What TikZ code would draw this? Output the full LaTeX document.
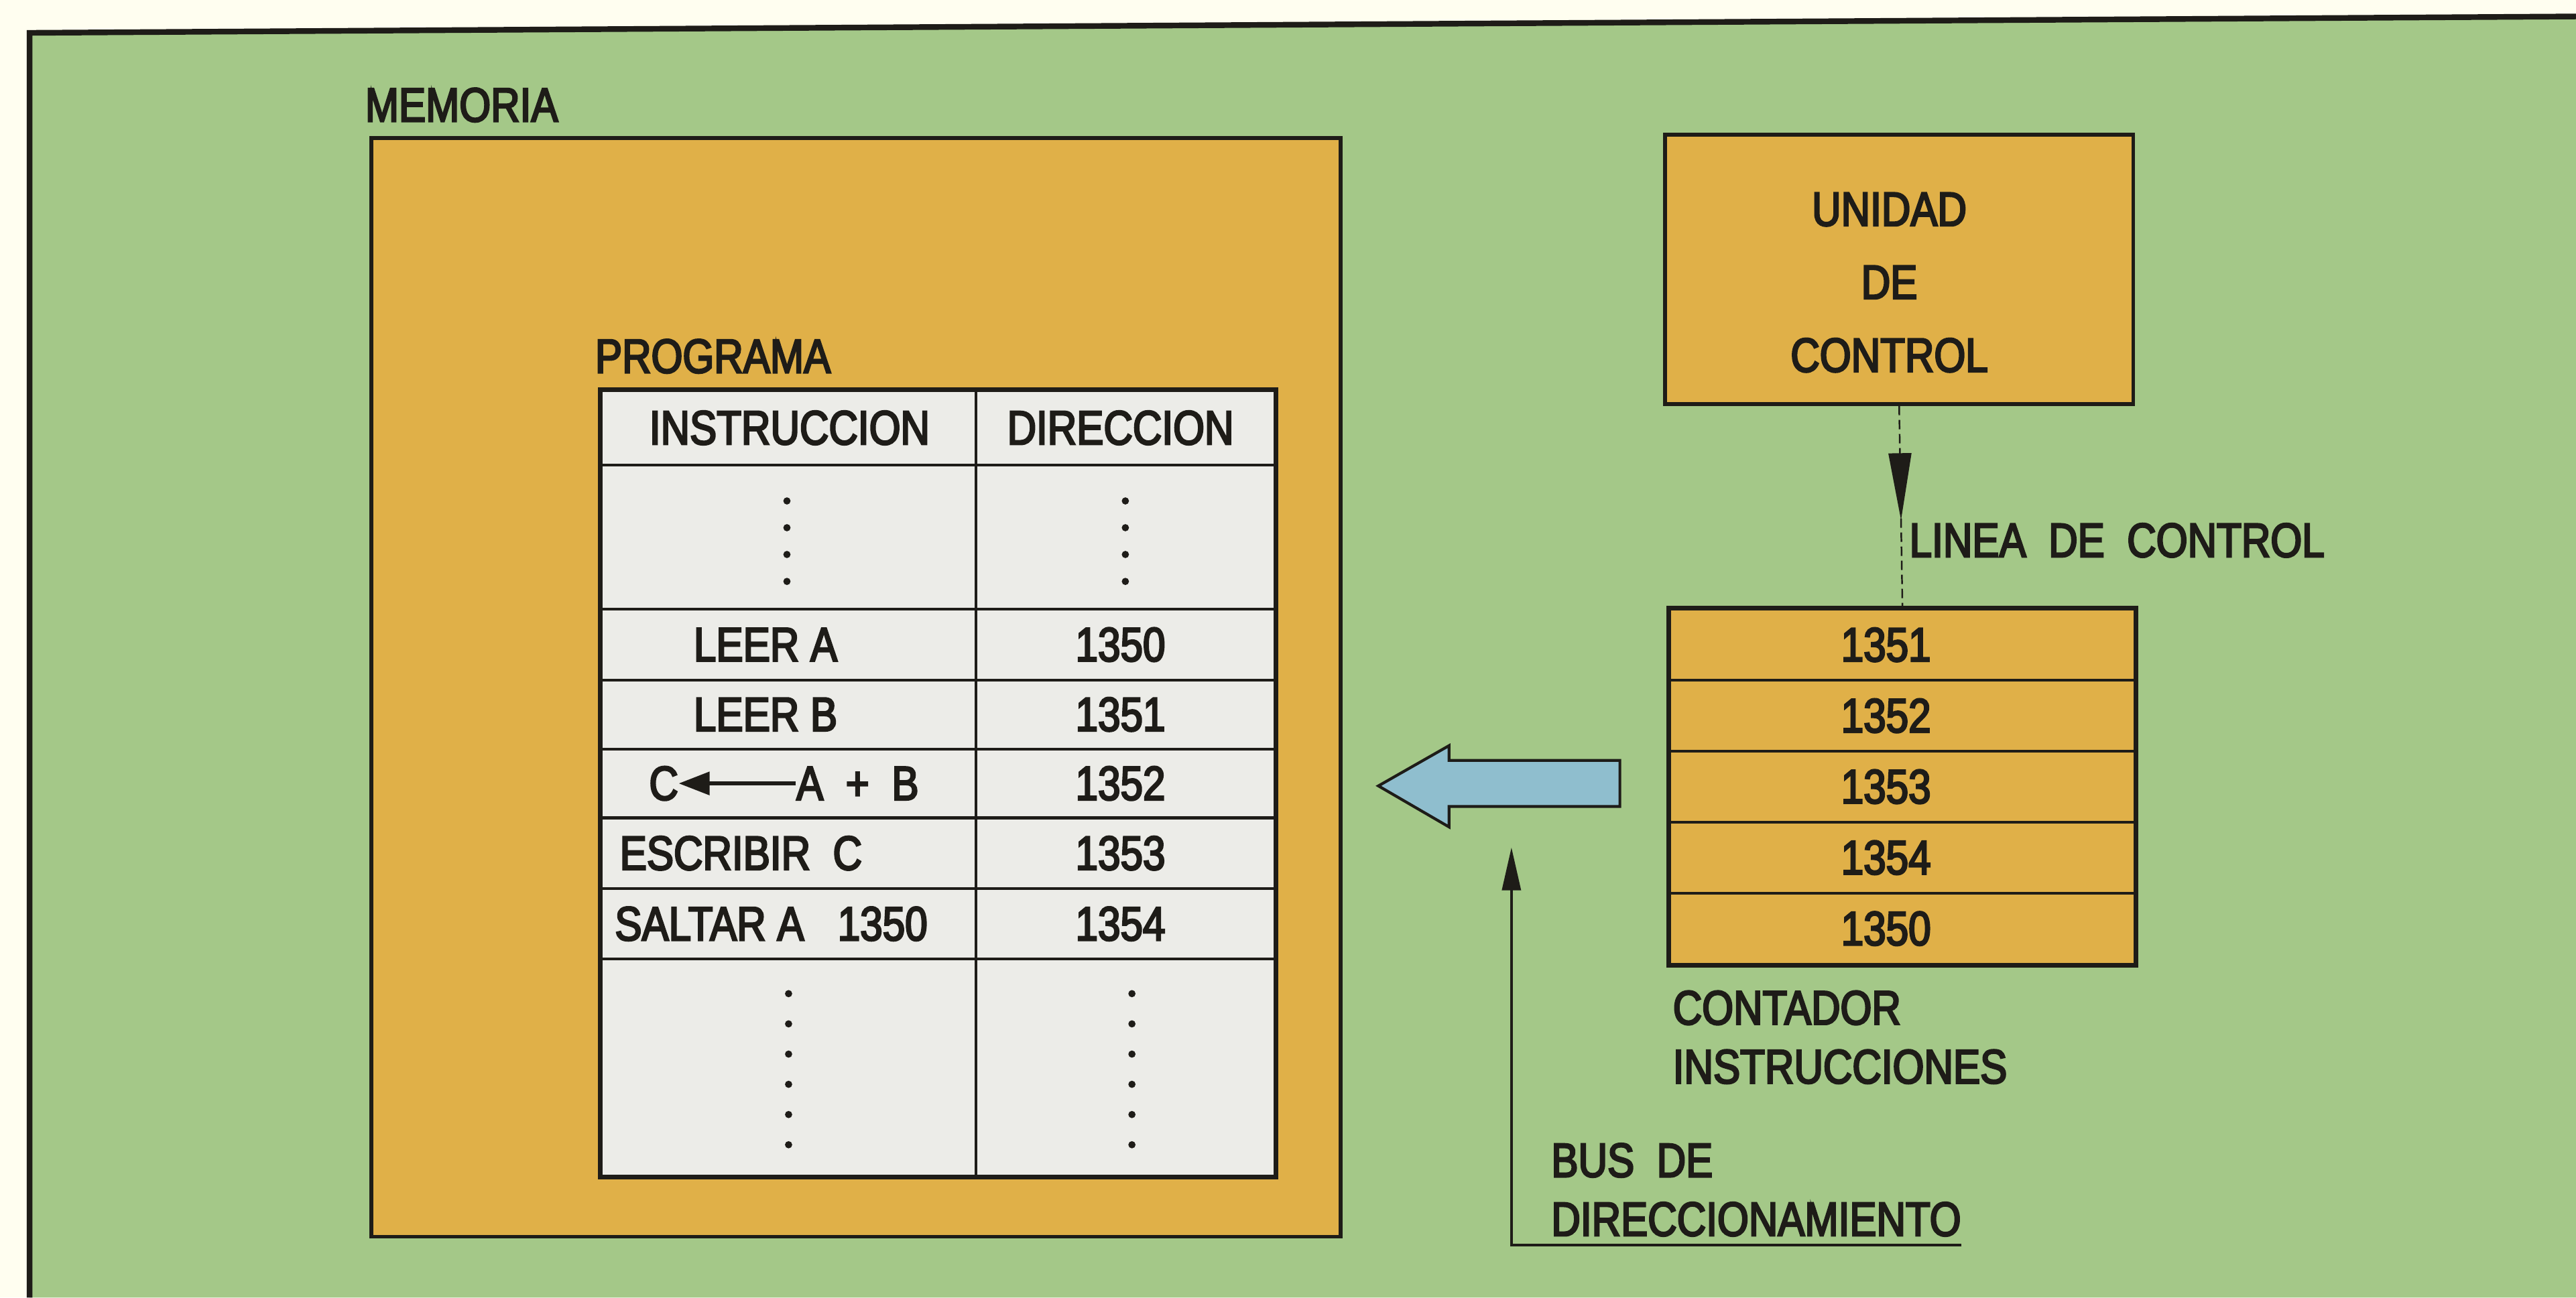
\documentclass[tikz,border=0pt]{standalone}
\usepackage{fontspec}
\setmainfont[FakeStretch=0.84,FakeBold=3.5]{Liberation Sans}
\usetikzlibrary{arrows.meta}
\usetikzlibrary{decorations.markings}
\usetikzlibrary{positioning}
\newcommand{\px}{0.2451mm}
\definecolor{panel}{RGB}{164,200,136}
\definecolor{ocre}{RGB}{224,176,72}
\definecolor{hoja}{RGB}{236,236,232}
\definecolor{celeste}{RGB}{143,190,206}
\definecolor{tinta}{RGB}{30,28,24}
\tikzset{x=\px, y=-\px,
every node/.style={ % same lettering everywhere
text=tinta, inner sep=0pt,
font=\fontsize{20.4}{25}\selectfont},
box/.style={draw=tinta, line width=1.5pt, fill=ocre},
cell/.style={draw=tinta, line width=1.2pt, fill=hoja},
reg/.style={draw=tinta, line width=1.2pt, fill=ocre},
ctrl/.style={ % dashed control line with its head halfway
draw=tinta, line width=0.7pt,
dash pattern=on 1.4mm off 0.7mm,
postaction={decorate},
decoration={markings, mark=at position 0.566 with {\arrow{Triangle[length=10mm,width=3.4mm]}}}},
bus/.style={draw=tinta, line width=1pt, -{Triangle[length=6.4mm,width=2.8mm]}}}

\begin{document}
\begin{tikzpicture}
\useasboundingbox (0,0) rectangle (1568,790);
\fill[white!94!yellow] (0,0) rectangle (1568,790);
\fill[panel] (18,20) -- (1568,10) -- (1568,790) -- (18,790) -- cycle;
\draw[tinta, line width=2.4pt] (18,790) -- (18,20) -- (1568,10);

% memoria
\node[box, minimum width=590*\px, minimum height=669*\px] (M) at (521,418.5) {};
\node[anchor=base west] (Mt) at (222,74) {MEMORIA};
\node[anchor=base west] (Pt) at (362,227) {PROGRAMA};
\foreach \t/\b/\ix/\ia/\da [count=\i] in {238/283/395/INSTRUCCION/DIRECCION, 283/371/0/{}/{},
  371/414/422/LEER A/1350, 414/456/422/LEER B/1351, 456/498/0/{}/1352,
  498/541/377/ESCRIBIR\ \ C/1353, 541/584/374/SALTAR A\ \ \ 1350/1354, 584/716/0/{}/{}}
{
\node[cell, minimum width=228*\px, minimum height={(\b-\t)*\px}] (I\i) at (480,{(\t+\b)/2}) {};
\node[cell, minimum width=182*\px, minimum height={(\b-\t)*\px}] (D\i) at (685,{(\t+\b)/2}) {};
\node[anchor=west] (Ia\i) at (\ix,{(\t+\b)/2}) {\ia};
\node (Da\i) at (682,{(\t+\b)/2}) {\da};
}
\draw[tinta, line width=1.6pt] (I1.north west) rectangle (D8.south east);
\foreach \y in {305,321.3,337.6,354} {
\fill[tinta] (479,\y) circle (2.2);
\fill[tinta] (685,\y) circle (2.2);
}
\foreach \y in {605,623.4,641.8,660.2,678.6,697} {
\fill[tinta] (480,\y) circle (2.2);
\fill[tinta] (689,\y) circle (2.2);
}
\node (C) at (404,477) {C};
\node (AB) at (522,477) {A\ \ +\ \ B};
\draw[tinta, line width=1.6pt, -{Triangle[length=4.6mm,width=3.4mm]}] (AB) -- (C);

% unidad de control y contador
\node[box, minimum width=285*\px, minimum height=164*\px] (U) at (1156,164) {};
\node[align=center] (Ut) at (1150,172) {UNIDAD\\[6pt]DE\\[6pt]CONTROL};
\foreach \v [count=\i] in {1351,1352,1353,1354,1350} {
\node[reg, minimum width=283*\px, minimum height=43.2*\px] (R\i) at (1158,{371+43.2*\i-21.6}) {};
\node (Ra\i) at (1148,{371+43.2*\i-21.6}) {\v};
}
\draw[tinta, line width=1.6pt] (R1.north west) rectangle (R5.south east);
\draw[ctrl] (U.south) -- (R1.north);
\node[anchor=west] (L) at (1162,329) {LINEA\ \ DE\ \ CONTROL};
\node[anchor=north west, align=left] (K) at (1018,603) {CONTADOR\\INSTRUCCIONES};

% flecha hacia memoria
\filldraw[fill=celeste, draw=tinta, line width=1.2pt]
(839,478.5) -- (882,454) -- (882,463) -- (986,463) -- (986,491) -- (882,491) -- (882,503.5) -- cycle;

% bus
\node[anchor=south west, align=left] (B) at (944,753) {BUS\ \ DE\\DIRECCIONAMIENTO};
\coordinate (Bf) at (920,758);
\coordinate (Bt) at (920,516);
\draw[bus] (B.south east |- Bf) -- (Bf) -- (Bt);
\end{tikzpicture}
\end{document}
